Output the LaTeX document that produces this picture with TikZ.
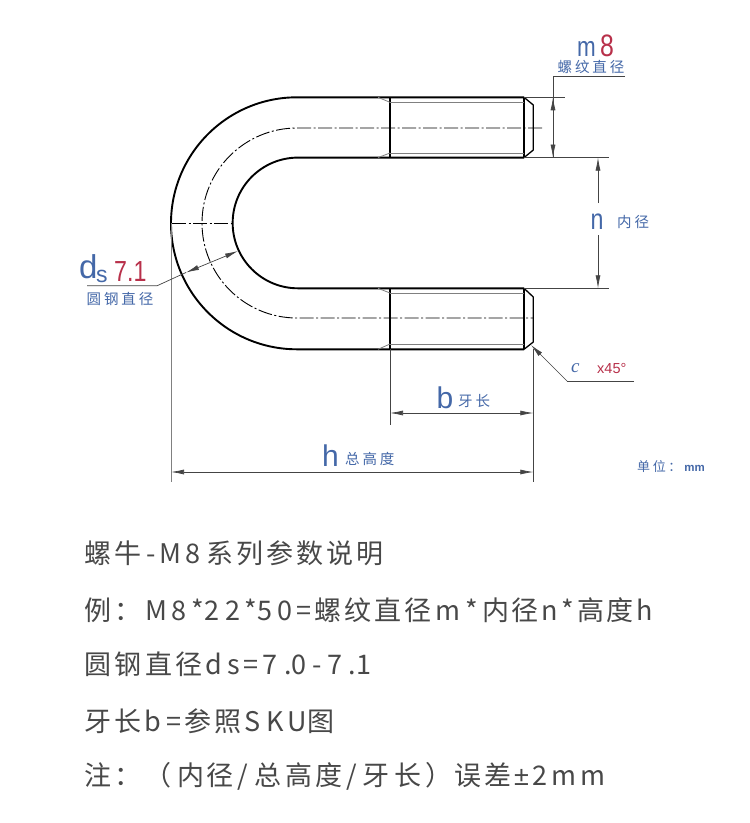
\documentclass[tikz,border=0pt]{standalone}
\usepackage{fontspec}
\setmainfont{Liberation Sans}
\newfontfamily\cjk{Noto Sans CJK SC}
\newfontfamily\cjklabel{Noto Sans CJK SC}[LetterSpace=20]
\newfontfamily\lat{Liberation Sans}
\newfontfamily\latn{Liberation Sans}[FakeStretch=0.8]
\newfontfamily\serifit{Liberation Serif}[Ligatures=TeX]
\newcommand\tc[2]{\makebox[#2pt][l]{#1}}
\definecolor{lblue}{HTML}{4468A8}
\definecolor{lred}{HTML}{B8304A}
\definecolor{dimc}{HTML}{444444}
\definecolor{body}{HTML}{484848}
\usetikzlibrary{arrows.meta}
\tikzset{
 x=1pt,y=-1pt,
 thick line/.style={line width=1.9pt,black},
 thin line/.style={line width=.7pt,color=dimc},
 thread line/.style={line width=.8pt,color=gray},
 center line/.style={line width=.9pt,black,dash pattern=on 14pt off 2.5pt on 2pt off 2.5pt},
 dimarrow/.style={thin line,{Latex[length=13pt,width=5pt]}-{Latex[length=13pt,width=5pt]}},
 endarrow/.style={thin line,-{Latex[length=13pt,width=5pt]}},
 bodytext/.style={anchor=base west,inner sep=0pt,text=body,font=\cjk\fontsize{27}{27}\selectfont},
 biglabel/.style={anchor=base west,inner sep=0pt,text=lblue,font=\lat\fontsize{30}{30}\selectfont},
 cnlabel/.style={anchor=base west,inner sep=0pt,text=lblue,font=\cjklabel\fontsize{14.5}{14.5}\selectfont},
 redlabel/.style={anchor=base west,inner sep=0pt,text=lred}
}
\begin{document}
\begin{tikzpicture}
\path[use as bounding box,fill=white] (0,0) rectangle (750,823);
% body outline
\draw[thick line] (524,97.3) -- (297,97.3) arc[start angle=270,end angle=90,radius=126] -- (524,349.3);
\draw[thick line] (524,157.6) -- (298,157.6) arc[start angle=270,end angle=90,radius=65.35] -- (524,288.3);
% thread ends
\draw[thick line] (390,97.3) -- (390,157.6) (390,288.3) -- (390,349.3);
\draw[thick line] (524,97.3) -- (524,157.6) (524,288.3) -- (524,349.3);
\draw[thick line,line width=1.3pt] (524,97.3) -- (533.3,105) -- (533.3,150) -- (524,157.6);
\draw[thick line,line width=1.3pt] (524,288.3) -- (533.3,297) -- (533.3,342) -- (524,349.3);
% thread lines
\draw[thread line] (390,102.3) -- (524,102.3) (390,153) -- (524,153) (390,293) -- (524,293) (390,344) -- (524,344);
\draw[thread line] (378,97.3) -- (390,102.3) (378,157.6) -- (390,153) (378,288.3) -- (390,293) (378,349.3) -- (390,344);
% centre lines
\draw[center line] (542,128) -- (297,128) arc[start angle=270,end angle=90,radius=95] -- (533,318);
\draw[center line] (172,223) -- (233,223);
% extension lines
\draw[thin line] (524,97.3) -- (565,97.3);
\draw[thin line] (524,157.6) -- (609,157.6);
\draw[thin line] (524,288.3) -- (609,288.3);
\draw[thread line,line width=1pt] (171,223) -- (171,482);
\draw[thin line] (533.3,349.3) -- (533.3,482);
\draw[thin line] (390,349.3) -- (390,425);
% m dimension
\coordinate (m1) at (553,97.3);
\coordinate (m2) at (553,157.6);
\coordinate (m3) at (625,76.7);
\draw[thin line] (m3) -- (553,76.7) -- (m2);
\draw[dimarrow] (m1) -- (m2);
% n dimension
\coordinate (n1) at (598,157.6);
\coordinate (n2) at (598,288.3);
\coordinate (n1b) at (598,203);
\coordinate (n2b) at (598,235);
\draw[endarrow] (n1b) -- (n1);
\draw[endarrow] (n2b) -- (n2);
% ds dimension
\coordinate (d1) at (186,272.5);
\coordinate (d2) at (238,251);
\coordinate (d3) at (157,285.8);
\coordinate (d4) at (87,285.8);
\draw[thin line] (d4) -- (d3) -- (d1);
\draw[dimarrow] (d1) -- (d2);
% c leader
\coordinate (c1) at (531,345);
\coordinate (c2) at (567,381);
\coordinate (c3) at (634,381);
\draw[thin line] (c3) -- (c2);
\draw[endarrow] (c2) -- (c1);
% b and h dimensions
\coordinate (b1) at (390,413);
\coordinate (b2) at (533.3,413);
\coordinate (h1) at (171,472);
\coordinate (h2) at (533.3,472);
\draw[dimarrow] (b1) -- (b2);
\draw[dimarrow] (h1) -- (h2);
% labels
\node[biglabel,font=\latn\fontsize{28}{28}\selectfont] (tm) at (577,56) {m};
\node[redlabel,font=\latn\fontsize{31}{31}\selectfont] (t8) at (600,56) {8};
\node[cnlabel] (tmc) at (557.5,72.5) {螺纹直径};
\node[biglabel,font=\latn\fontsize{29}{29}\selectfont] (tn) at (590.5,229) {n};
\node[cnlabel] (tnc) at (617,227) {内径};
\node[biglabel,font=\lat\fontsize{33}{33}\selectfont] (td) at (79,278) {d};
\node[biglabel,font=\lat\fontsize{23}{23}\selectfont] (ts) at (96,282) {s};
\node[redlabel,font=\latn\fontsize{29}{29}\selectfont] (t71) at (114,281) {7.1};
\node[cnlabel] (tdc) at (86.5,304.5) {圆钢直径};
\node[biglabel] (tb) at (436.5,408) {b};
\node[cnlabel] (tbc) at (458,406) {牙长};
\node[biglabel] (th) at (322,466) {h};
\node[cnlabel] (thc) at (345,464) {总高度};
\node[anchor=base west,inner sep=0pt,text=lblue,font=\serifit\itshape\fontsize{19}{19}\selectfont] (tc) at (571,372) {c};
\node[redlabel,font=\lat\fontsize{14.5}{14.5}\selectfont] (tx) at (597,373) {x45°};
\node[cnlabel,font=\cjklabel\fontsize{13}{13}\selectfont] (tu) at (637,471) {单位：\kern3pt{\lat\bfseries\fontsize{11.5}{11.5}\selectfont mm}};
% description
\node[bodytext] (l1) at (84,563) {\tc{螺}{30}\tc{牛}{32}\tc{-}{13.5}\tc{M}{26}\tc{8}{20.5}\tc{系}{30}\tc{列}{30}\tc{参}{30}\tc{数}{30}\tc{说}{30}明};
\node[bodytext] (l2) at (84,620.5) {\tc{例}{30}\tc{：}{31}\tc{M}{26}\tc{8}{20}\tc{*}{13}\tc{2}{21}\tc{2}{19}\tc{*}{13}\tc{5}{20}\tc{0}{19}\tc{=}{18}\tc{螺}{30}\tc{纹}{30}\tc{直}{30.5}\tc{径}{30.5}\tc{m}{30}\tc{*}{17}\tc{内}{29.5}\tc{径}{29.5}\tc{n}{20}\tc{*}{16}\tc{高}{29.5}\tc{度}{30}h};
\node[bodytext] (l3) at (84,674.5) {\tc{圆}{30.5}\tc{钢}{30.5}\tc{直}{30}\tc{径}{30}\tc{d}{22}\tc{s}{16}\tc{=}{19}\tc{7}{22}\tc{.}{7.5}\tc{0}{21}\tc{-}{15}\tc{7}{21}\tc{.}{7.5}1};
\node[bodytext] (l4) at (84,731) {\tc{牙}{30}\tc{长}{30.7}\tc{b}{21.8}\tc{=}{17.5}\tc{参}{30}\tc{照}{30}\tc{S}{22.5}\tc{K}{21}\tc{U}{19.5}图};
\node[bodytext] (l5) at (84,785.5) {\tc{注}{30}\tc{：}{30}\tc{（}{33}\tc{内}{29}\tc{径}{31.5}\tc{/}{16.5}\tc{总}{31}\tc{高}{30}\tc{度}{31.5}\tc{/}{15.5}\tc{牙}{32}\tc{长}{31.5}\tc{）}{28.5}\tc{误}{30}\tc{差}{30}\tc{{\lat ±}}{18}\tc{2}{19}\tc{m}{29}m};
\end{tikzpicture}
\end{document}
